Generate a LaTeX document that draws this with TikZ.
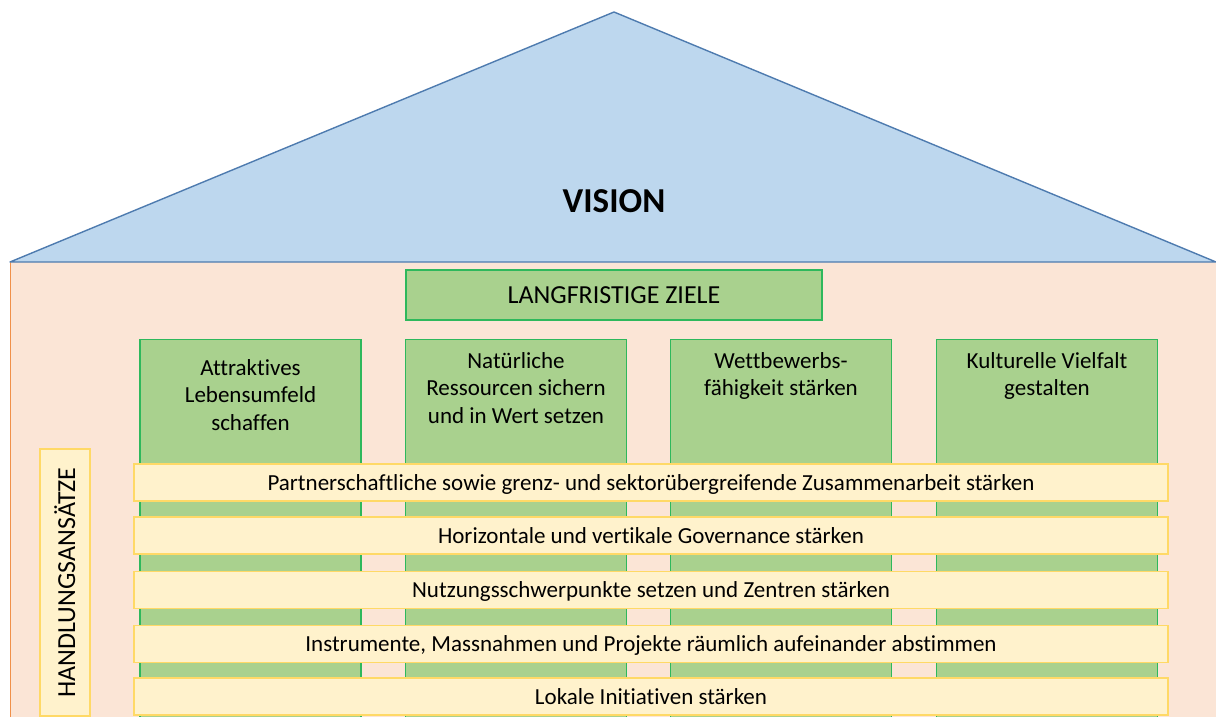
\documentclass[tikz,border=0pt]{standalone}
\usepackage{fontspec}
\setmainfont{Carlito}[Ligatures=NoCommon]
\definecolor{roofF}{HTML}{BDD7EE}
\definecolor{roofD}{HTML}{4E7BAF}
\definecolor{bodyF}{HTML}{FBE5D6}
\definecolor{bodyD}{HTML}{F0904A}
\definecolor{grnF}{HTML}{A9D18E}
\definecolor{grnD}{HTML}{2EB85C}
\definecolor{ylwF}{HTML}{FFF2CC}
\definecolor{ylwD}{HTML}{FFD966}
\tikzset{
  goalbox/.style={draw=grnD, fill=grnF, line width=1.3pt, inner sep=0pt},
  colbox/.style={draw=grnD, fill=grnF, line width=1.3pt, inner sep=0pt, anchor=north, minimum width=221pt, minimum height=420pt},
  coltext/.style={align=center, anchor=base, inner sep=0pt, font=\fontsize{23}{27.5}\selectfont},
  barbox/.style={draw=ylwD, fill=ylwF, line width=1.3pt, inner sep=0pt, minimum width=1034pt, minimum height=37pt, text height=18pt, text depth=3pt, font=\fontsize{23}{27.5}\selectfont},
}
\begin{document}
\begin{tikzpicture}[x=1pt,y=-1pt]
\useasboundingbox (0,0) rectangle (1216,717);
\clip (0,0) rectangle (1216,717);
% body
\fill[bodyF] (10,262) rectangle (1240,740);
\draw[bodyD, line width=1.5pt] (10.6,262) -- (10.6,740);
% roof
\filldraw[fill=roofF, draw=roofD, line width=1.4pt, line join=round] (10,262) -- (614,12) -- (1216,262) -- cycle;
\node[font=\fontsize{35}{40}\selectfont\bfseries, anchor=base] (vision) at (614,212) {VISION};
% long-term goals
\node[goalbox, minimum width=416pt, minimum height=50pt, text height=19pt, text depth=3pt, font=\fontsize{26}{30}\selectfont] (lz) at (614,295) {LANGFRISTIGE ZIELE};
% columns
\node[colbox] (c1) at (250.5,339) {};
\node[colbox] (c2) at (516,339) {};
\node[colbox] (c3) at (781,339) {};
\node[colbox] (c4) at (1047,339) {};
\node[coltext] (t1) at (250.5,430) {Attraktives\\Lebensumfeld\\schaffen};
\node[coltext] (t2) at (516,423) {Natürliche\\Ressourcen sichern\\und in Wert setzen};
\node[coltext] (t3) at (781,395.5) {Wettbewerbs-\\fähigkeit stärken};
\node[coltext] (t4) at (1047,395.5) {Kulturelle Vielfalt\\gestalten};
% Handlungsansätze label
\node[draw=ylwD, fill=ylwF, line width=1.3pt, inner sep=0pt, rotate=90, minimum width=267pt, minimum height=50pt, text height=20pt, text depth=0pt, font=\fontsize{26}{30}\selectfont] (ha) at (65,582.5) {HANDLUNGSANSÄTZE};
% bars
\node[barbox] (b1) at (651,482.5) {Partnerschaftliche sowie grenz- und sektorübergreifende Zusammenarbeit stärken};
\node[barbox] (b2) at (651,535.5) {Horizontale und vertikale Governance stärken};
\node[barbox] (b3) at (651,590) {Nutzungsschwerpunkte setzen und Zentren stärken};
\node[barbox] (b4) at (651,644) {Instrumente, Massnahmen und Projekte räumlich aufeinander abstimmen};
\node[barbox] (b5) at (651,696.5) {Lokale Initiativen stärken};
\end{tikzpicture}
\end{document}
